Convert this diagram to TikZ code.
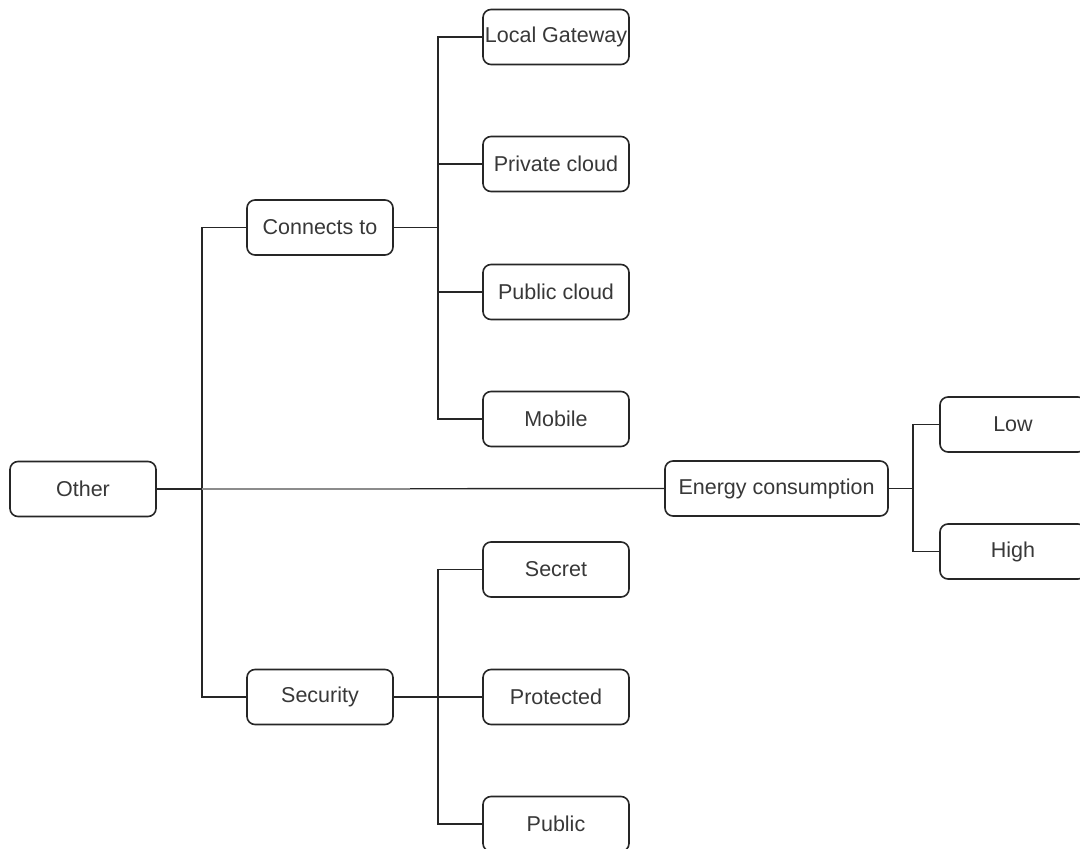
\documentclass[tikz,border=0pt]{standalone}
\usepackage{fontspec}
\setmainfont{Liberation Sans}
\begin{document}
\begin{tikzpicture}[x=1pt,y=-1pt,
  box/.style={draw=black!85, line width=1.6pt, rounded corners=8pt, fill=white,
    minimum width=146pt, minimum height=55pt, inner sep=0pt,
    font=\fontsize{21.5}{24}\selectfont, text=black!78},
  link/.style={draw=black!85, line width=1.4pt}]
\useasboundingbox (0,0) rectangle (1080,849);
\clip (0,0) rectangle (1080,849);
% junction coordinates
\coordinate (j1) at (202,0);
\coordinate (j2) at (438,0);
\coordinate (j3) at (913,0);
\coordinate (g1) at (202,489);
\coordinate (g2) at (410,489);
% nodes
\node[box] (other) at (83,489) {Other};
\node[box] (conn) at (320,227.5) {Connects to};
\node[box] (sec) at (320,697) {Security};
\node[box] (lg) at (556,37) {Local Gateway};
\node[box] (priv) at (556,164) {Private cloud};
\node[box] (pubc) at (556,292) {Public cloud};
\node[box] (mob) at (556,419) {Mobile};
\node[box, minimum width=223pt] (energy) at (776.5,488.5) {Energy consumption};
\node[box] (low) at (1013,424.5) {Low};
\node[box] (high) at (1013,551.5) {High};
\node[box] (secret) at (556,569.5) {Secret};
\node[box] (prot) at (556,697) {Protected};
\node[box] (pub) at (556,824) {Public};
% connectors
\draw[link] (other.east) -- (other.east -| j1) |- (conn.west);
\draw[link] (other.east) -- (other.east -| j1) |- (sec.west);
\draw[link] (other.east) -- (energy.west);
\draw[draw=black!45, line width=1.6pt] (g1) -- (g2);
\foreach \t in {lg,priv,pubc,mob}
  \draw[link] (conn.east) -- (conn.east -| j2) |- (\t.west);
\foreach \t in {secret,prot,pub}
  \draw[link] (sec.east) -- (sec.east -| j2) |- (\t.west);
\foreach \t in {low,high}
  \draw[link] (energy.east) -- (energy.east -| j3) |- (\t.west);
\end{tikzpicture}
\end{document}
